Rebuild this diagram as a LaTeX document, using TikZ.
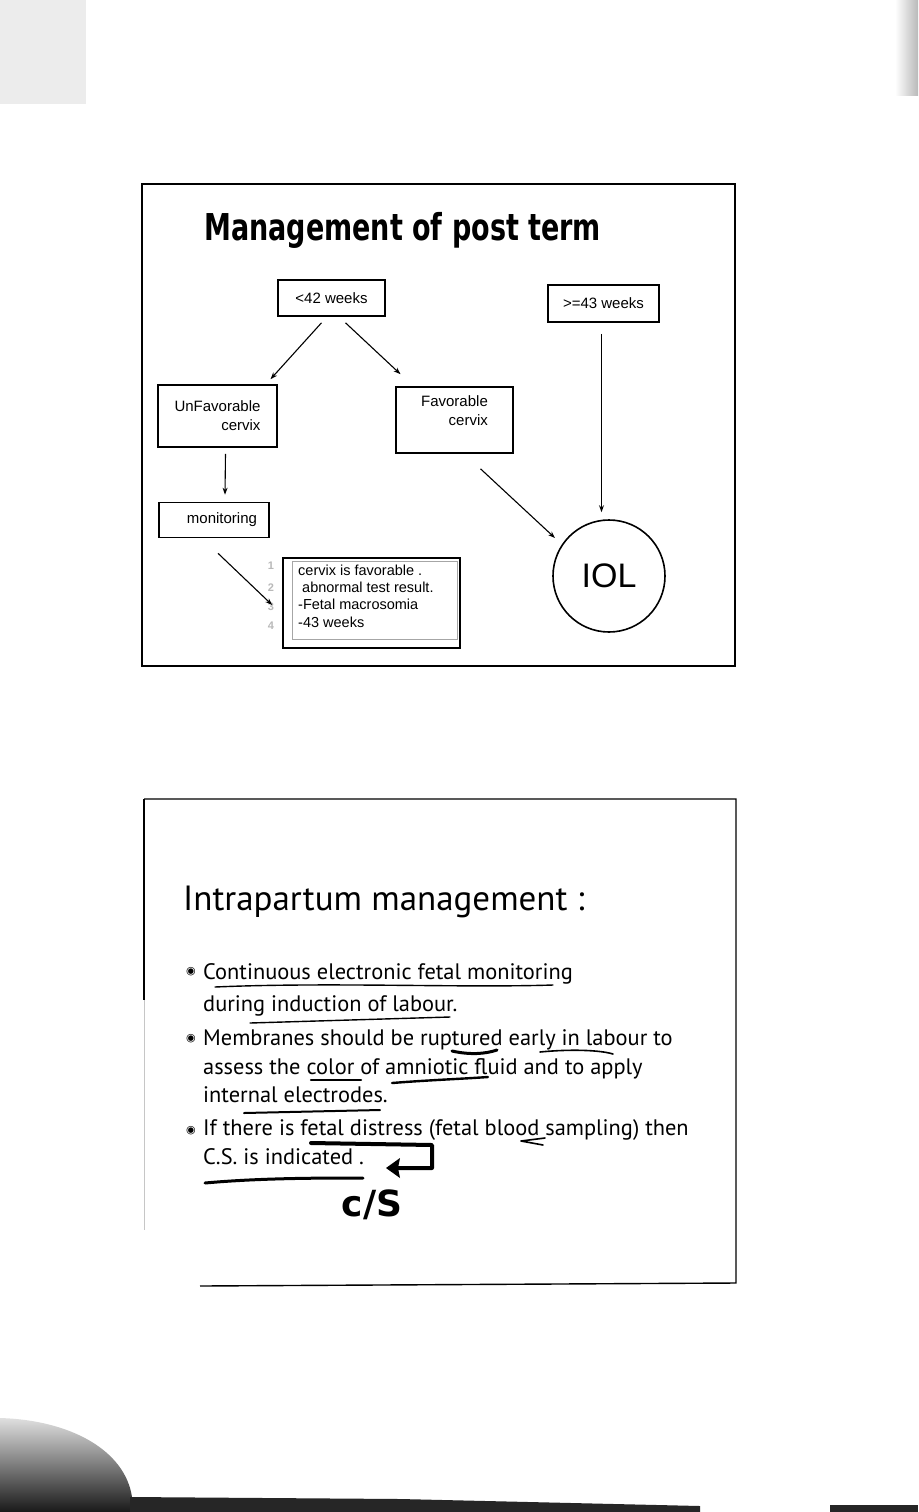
\documentclass[tikz,border=0pt]{standalone}
\usepackage{fontspec}
\setmainfont{Liberation Sans}
\newfontfamily\titlefont[FakeStretch=0.73]{DejaVu Sans}
\newfontfamily\slidefont{PT Sans}
\newfontfamily\symfont{DejaVu Sans}
\usetikzlibrary{arrows.meta,calc}

\begin{document}
\begin{tikzpicture}[x=1pt,y=-1pt,>={Stealth[length=7pt,width=5pt]},
  box/.style={draw,line width=1.6pt,inner sep=0pt,font=\fontsize{15}{19}\selectfont},
  frame/.style={draw,line width=1.4pt},
  link/.style={->,line width=1.1pt},
  line/.style={anchor=base west,inner sep=0pt,font=\slidefont\fontsize{22.4}{22}\selectfont},
  pen/.style={line width=2.2pt,line cap=round,line join=round}]
  \useasboundingbox[fill=white] (0,0) rectangle (918,1512);
  % scan edges
  \fill[gray!15] (0,0) rectangle (86,104);
  \shade[left color=white,right color=gray!55] (895,0) rectangle (918,95);
  \shade[top color=gray!25,bottom color=black!90] (0,1418) .. controls (70,1420) and (125,1450) .. (132,1497)
    -- (132,1512) -- (0,1512) -- cycle;
  \fill[black!85] (130,1497) -- (400,1499) -- (700,1506) -- (700,1512) -- (130,1512) -- cycle;
  \fill[black!85] (830,1505) rectangle (918,1512);

  % first slide
  \draw[frame] (142,184) rectangle (735,666);
  \node (title) [anchor=base west,inner sep=0pt,font=\titlefont\bfseries\fontsize{37}{40}\selectfont]
    at (204,240) {Management of post term};
  \node (lt42) [box,minimum width=107,minimum height=36] at (331.5,298) {<42 weeks};
  \node (ge43) [box,minimum width=111,minimum height=37] at (603.5,303.5) {>=43 weeks};
  \node (unfav) [box,minimum width=119,minimum height=62,align=right] at (217.5,416) {UnFavorable\\cervix};
  \node (fav) [box,minimum width=117,minimum height=66,align=right] at (454.5,420) {Favorable\\cervix\\\mbox{}};
  \node (mon) [box,minimum width=110,minimum height=35] at (214,520) {\hspace*{16pt}monitoring};
  \node (cond) [box,minimum width=177,minimum height=90] at (371.5,603) {};
  \draw[gray!70,line width=0.6pt] ($(cond.north west)+(10,4)$) rectangle ($(cond.south east)+(-4,-10)$);
  \node (condtext) [anchor=north west,inner sep=0pt,align=left,font=\fontsize{14.5}{17.3}\selectfont]
    at (298,564.5) {cervix is favorable .\\\hspace*{4pt}abnormal test result.\\-Fetal macrosomia\\-43 weeks};
  \foreach \n/\y in {1/566,2/588,3/607,4/626}
    \node (num\n) [text=gray!55,font=\bfseries\fontsize{11}{11}\selectfont] at (271,\y) {\n};
  \node (iol) [draw,circle,line width=1.6pt,minimum size=112,inner sep=0pt,font=\fontsize{34}{34}\selectfont]
    at (609,576) {IOL};

  \draw[link] ($(lt42.south)+(-10,6)$) -- ($(unfav.north)+(53,-5)$);
  \draw[link] ($(lt42.south)+(14,6)$) -- ($(fav.north)+(-54,-12)$);
  \draw[link] ($(ge43.south)+(-2,11)$) -- ($(iol.north)+(-7.5,-7)$);
  \draw[link] ($(unfav.south)+(8,6)$) -- ($(mon.north)+(11,-7)$);
  \draw[link] ($(fav.south)+(26,15)$) -- ($(iol.center)+(-54,-38)$);
  \draw[link] ($(mon.south)+(4,15)$) -- ($(cond.west)+(-10,2)$);

  % second slide
  \draw[frame] (144,799) -- (736,799) -- (736,1283) -- (200,1286);
  \draw[line width=1.2pt] (144,799) -- (144,1000);
  \draw[gray!45,line width=0.8pt] (144,1000) -- (144,1230);
  \node (title2) [anchor=base west,inner sep=0pt,font=\slidefont\fontsize{35}{35}\selectfont]
    at (183,910) {Intrapartum management :};
  \foreach \y in {972,1039,1131}
    \node (bul\y) [font=\symfont\fontsize{11}{11}\selectfont,inner sep=0pt] at (191,\y) {◉};
  \foreach \y/\t in {979/Continuous electronic fetal monitoring,
      1011/during induction of labour.,
      1045/Membranes should be ruptured early in labour to,
      1074/assess the color of amniotic fluid and to apply,
      1102/internal electrodes.,
      1135/If there is fetal distress (fetal blood sampling) then,
      1164/C.S. is indicated .}
    \node (line\y) [line] at (203,\y) {\t};

  % pen marks
  \draw[pen,line width=1.4pt] (215,987) .. controls (330,982) and (460,988) .. (553,985);
  \draw[pen,line width=1.4pt] (250,1023) -- (450,1017);
  \draw[pen,line width=3pt] (452,1051) .. controls (470,1055) and (485,1054) .. (497,1050);
  \draw[pen,line width=1.6pt] (540,1052) .. controls (570,1049) and (600,1050) .. (613,1054);
  \draw[pen,line width=2.4pt] (311,1080) -- (361,1080);
  \draw[pen,line width=2.4pt] (392,1083) .. controls (430,1080) and (460,1079) .. (488,1077);
  \draw[pen,line width=2pt] (244,1113) -- (380,1110);
  \draw[pen,line width=4pt] (311,1143) -- (432,1145) -- (432,1168) -- (398,1168);
  \fill (386,1168) -- (400,1158) -- (398,1168) -- (400,1178) -- cycle;
  \draw[pen,line width=1.6pt] (545,1138) -- (521,1141) -- (543,1145);
  \draw[pen,line width=3pt] (205,1183) .. controls (260,1178) and (320,1178) .. (363,1178);
  \node (cs) [font=\symfont\bfseries\fontsize{36}{36}\selectfont] at (372,1205) {c/S};
\end{tikzpicture}
\end{document}
